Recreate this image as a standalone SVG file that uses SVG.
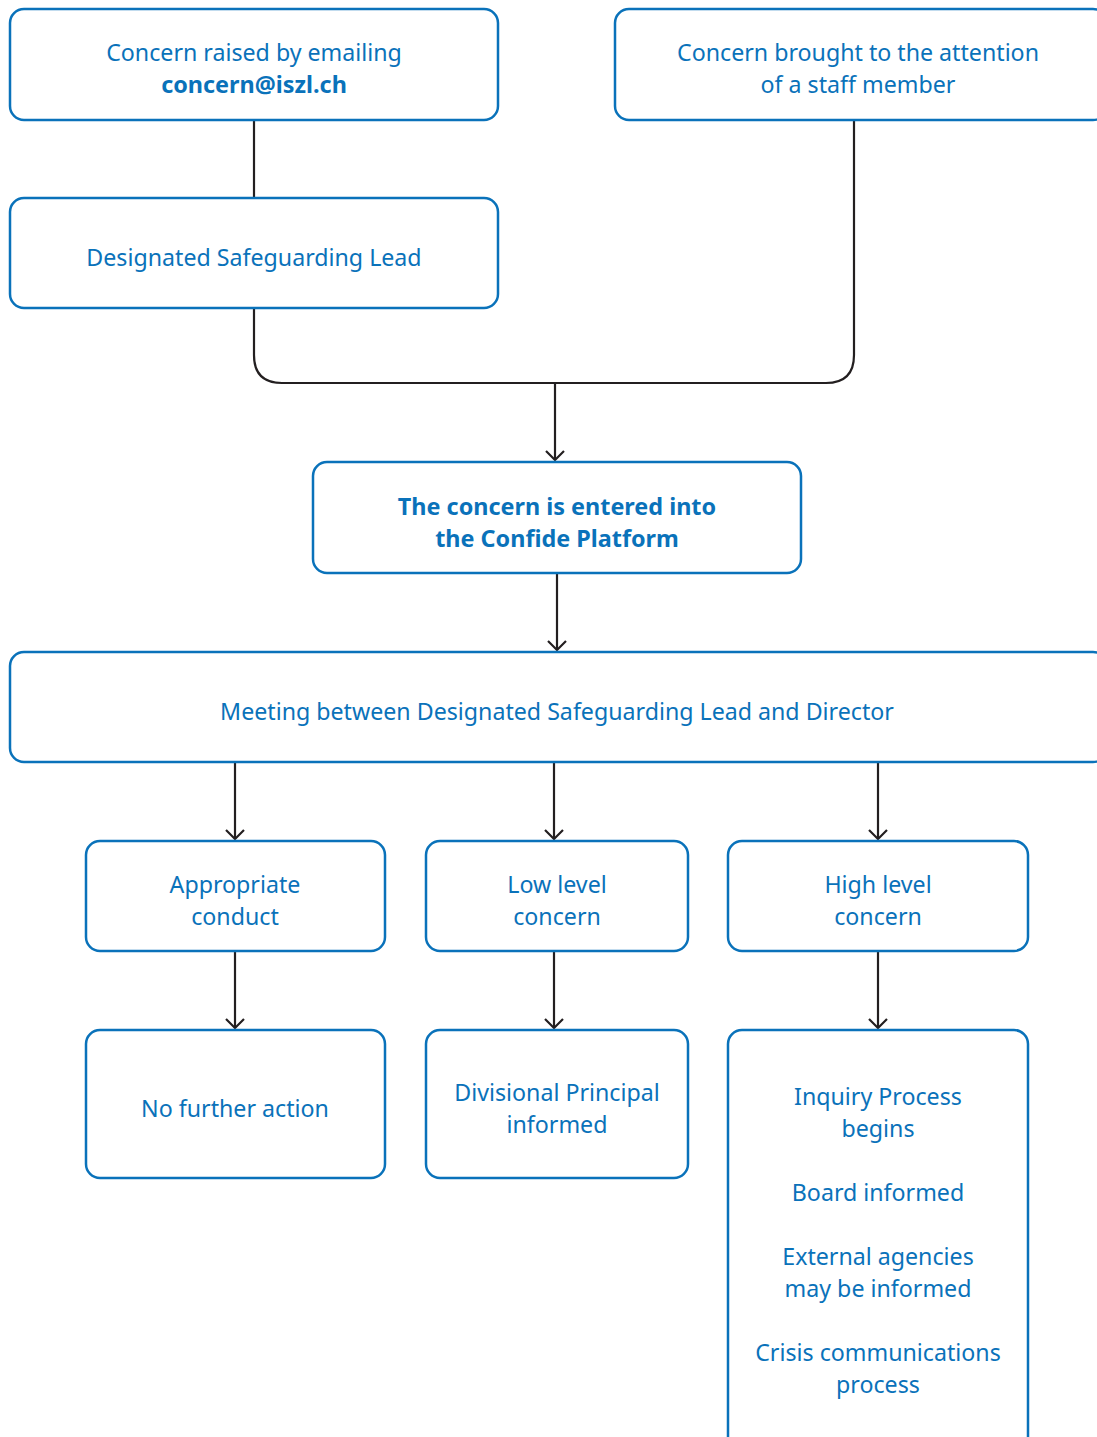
<svg xmlns="http://www.w3.org/2000/svg" width="1097" height="1437" viewBox="0 0 1097 1437">
<defs>
<style>
.box{fill:#fff;stroke:#0a72ba;stroke-width:2.5}
.t{font-family:"Noto Sans","Open Sans",sans-serif;font-size:23.2px;fill:#0a72ba;text-anchor:middle}
.b{font-weight:bold;font-size:23.4px}
.c{fill:none;stroke:#231f20;stroke-width:2.2}
</style>
<marker id="ah" viewBox="0 0 20 20" refX="18" refY="10" markerWidth="20" markerHeight="20" markerUnits="userSpaceOnUse" orient="auto">
<path d="M9,1 L18,10 L9,19" fill="none" stroke="#231f20" stroke-width="2.2"/>
</marker>
</defs>
<rect width="1097" height="1437" fill="#fff"/>
<g id="connectors">
<path class="c" d="M254,120 V198"/>
<path class="c" d="M254,308 V355 Q254,383 282,383 H826 Q854,383 854,355 V120"/>
<path class="c" d="M555,383 V460" marker-end="url(#ah)"/>
<path class="c" d="M557,573 V650" marker-end="url(#ah)"/>
<path class="c" d="M235,762 V839" marker-end="url(#ah)"/>
<path class="c" d="M554,762 V839" marker-end="url(#ah)"/>
<path class="c" d="M878,762 V839" marker-end="url(#ah)"/>
<path class="c" d="M235,951 V1028" marker-end="url(#ah)"/>
<path class="c" d="M554,951 V1028" marker-end="url(#ah)"/>
<path class="c" d="M878,951 V1028" marker-end="url(#ah)"/>
</g>
<g id="email">
<rect class="box" x="10" y="9" width="488" height="111" rx="14"/>
<text class="t" x="254" y="61">Concern raised by emailing</text>
<text class="t b" x="254" y="93">concern@iszl.ch</text>
</g>
<g id="staff">
<rect class="box" x="615" y="9" width="492" height="111" rx="14"/>
<text class="t" x="858" y="61">Concern brought to the attention</text>
<text class="t" x="858" y="93">of a staff member</text>
</g>
<g id="dsl">
<rect class="box" x="10" y="198" width="488" height="110" rx="14"/>
<text class="t" x="254" y="266">Designated Safeguarding Lead</text>
</g>
<g id="confide">
<rect class="box" x="313" y="462" width="488" height="111" rx="14"/>
<text class="t b" x="557" y="515">The concern is entered into</text>
<text class="t b" x="557" y="547">the Confide Platform</text>
</g>
<g id="meeting">
<rect class="box" x="10" y="652" width="1097" height="110" rx="14"/>
<text class="t" x="557" y="720">Meeting between Designated Safeguarding Lead and Director</text>
</g>
<g id="appropriate">
<rect class="box" x="86" y="841" width="299" height="110" rx="14"/>
<text class="t" x="235" y="893">Appropriate</text>
<text class="t" x="235" y="925">conduct</text>
</g>
<g id="low">
<rect class="box" x="426" y="841" width="262" height="110" rx="14"/>
<text class="t" x="557" y="893">Low level</text>
<text class="t" x="557" y="925">concern</text>
</g>
<g id="high">
<rect class="box" x="728" y="841" width="300" height="110" rx="14"/>
<text class="t" x="878" y="893">High level</text>
<text class="t" x="878" y="925">concern</text>
</g>
<g id="nfa">
<rect class="box" x="86" y="1030" width="299" height="148" rx="14"/>
<text class="t" x="235" y="1117">No further action</text>
</g>
<g id="divisional">
<rect class="box" x="426" y="1030" width="262" height="148" rx="14"/>
<text class="t" x="557" y="1101">Divisional Principal</text>
<text class="t" x="557" y="1133">informed</text>
</g>
<g id="inquiry">
<rect class="box" x="728" y="1030" width="300" height="430" rx="14"/>
<text class="t" x="878" y="1105">Inquiry Process</text>
<text class="t" x="878" y="1137">begins</text>
<text class="t" x="878" y="1201">Board informed</text>
<text class="t" x="878" y="1265">External agencies</text>
<text class="t" x="878" y="1297">may be informed</text>
<text class="t" x="878" y="1361">Crisis communications</text>
<text class="t" x="878" y="1393">process</text>
</g>
</svg>
